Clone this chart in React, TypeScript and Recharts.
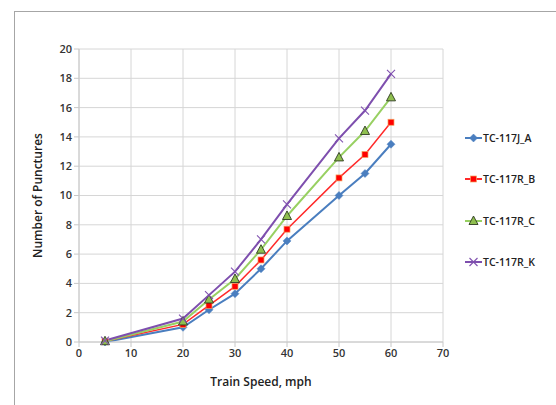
import React from 'react';
import { LineChart, Line, XAxis, YAxis, CartesianGrid, Label } from 'recharts';

const speeds = [5, 20, 25, 30, 35, 40, 50, 55, 60];
const seriesA = [0.0, 1.0, 2.2, 3.3, 5.0, 6.9, 10.0, 11.5, 13.5];
const seriesB = [0.05, 1.2, 2.5, 3.8, 5.6, 7.7, 11.2, 12.8, 15.0];
const seriesC = [0.05, 1.4, 2.9, 4.3, 6.3, 8.6, 12.6, 14.4, 16.7];
const seriesK = [0.1, 1.6, 3.2, 4.8, 7.0, 9.4, 13.9, 15.8, 18.3];
const xTicks = [0, 10, 20, 30, 40, 50, 60, 70];
const yTicks = [0, 2, 4, 6, 8, 10, 12, 14, 16, 18, 20];
const names = ['TC-117J_A', 'TC-117R_B', 'TC-117R_C', 'TC-117R_K'];

const data = speeds.map((s, i) => ({ speed: s, A: seriesA[i], B: seriesB[i], C: seriesC[i], K: seriesK[i] }));

const colors = { A: '#4a7ebf', B: '#ff2a2a', C: '#98d062', K: '#7e4fae' };
const FONT = '"Open Sans", "Liberation Sans", sans-serif';

const Marker = ({ kind, cx, cy }: { kind: string; cx: number; cy: number }) => {
  if (cx == null || cy == null) return null;
  if (kind === 'A') {
    return <polygon points={`${cx},${cy - 4} ${cx + 4},${cy} ${cx},${cy + 4} ${cx - 4},${cy}`} fill={colors.A} stroke={colors.A} strokeWidth={0.5} />;
  }
  if (kind === 'B') {
    return <rect x={cx - 3} y={cy - 3} width={6} height={6} fill="#ff0000" stroke="#f4a460" strokeWidth={0.7} />;
  }
  if (kind === 'C') {
    return <polygon points={`${cx},${cy - 5} ${cx + 4.5},${cy + 3.5} ${cx - 4.5},${cy + 3.5}`} fill="#8fbf4f" stroke="#2e3a20" strokeWidth={0.9} />;
  }
  return (
    <g stroke={colors.K} strokeWidth={1.1}>
      <line x1={cx - 4} y1={cy - 4} x2={cx + 4} y2={cy + 4} />
      <line x1={cx - 4} y1={cy + 4} x2={cx + 4} y2={cy - 4} />
    </g>
  );
};

const mkDot = (kind: string) => (props: any) => <Marker key={`${kind}-${props.index}`} kind={kind} cx={props.cx} cy={props.cy} />;

const LegendBox = () => {
  const keys = ['A', 'B', 'C', 'K'];
  return (
    <div style={{ position: 'absolute', left: 465, top: 117, fontFamily: FONT }}>
      {keys.map((k, i) => (
        <div key={k} style={{ height: 41.5, display: 'flex', alignItems: 'center' }}>
          <svg width={17} height={10} style={{ display: 'block' }}>
            <line x1={0} y1={5} x2={17} y2={5} stroke={(colors as any)[k]} strokeWidth={2} />
            <Marker kind={k} cx={8.5} cy={5} />
          </svg>
          <span style={{ fontSize: 10.5, fontWeight: 600, color: '#222', marginLeft: 1 }}>{names[i]}</span>
        </div>
      ))}
    </div>
  );
};

export default function App() {
  return (
    <div style={{ position: 'absolute', left: 0, top: 0, width: 556, height: 405, overflow: 'hidden', background: '#fff' }}>
      <div style={{ position: 'absolute', left: 14, top: 11, width: 700, height: 600, border: '1px solid #a6a6a6' }} />
      <LineChart width={556} height={405} data={data} margin={{ top: 49, right: 113, left: 39, bottom: 33 }}>
        <CartesianGrid stroke="#d6d6d6" strokeWidth={1} />
        <XAxis
          dataKey="speed"
          type="number"
          domain={[0, 70]}
          ticks={xTicks}
          interval={0}
          height={30}
          stroke="#c8c8c8"
          tickSize={5}
          tick={{ fontSize: 11, fontWeight: 600, fill: '#333', fontFamily: FONT }}
        >
          <Label value="Train Speed, mph" position="insideBottom" offset={-14} style={{ fontSize: 12, fontWeight: 600, fill: '#222', fontFamily: FONT }} />
        </XAxis>
        <YAxis
          type="number"
          domain={[0, 20]}
          ticks={yTicks}
          interval={0}
          width={40}
          stroke="#c8c8c8"
          tickSize={5}
          tick={{ fontSize: 11, fontWeight: 600, fill: '#333', fontFamily: FONT }}
        >
          <Label value="Number of Punctures" angle={-90} position="insideLeft" offset={-1} style={{ textAnchor: 'middle', fontSize: 12, fontWeight: 600, fill: '#222', fontFamily: FONT }} />
        </YAxis>
        <Line type="linear" dataKey="A" name={names[0]} stroke={colors.A} strokeWidth={2} dot={mkDot('A')} isAnimationActive={false} />
        <Line type="linear" dataKey="B" name={names[1]} stroke={colors.B} strokeWidth={1.5} dot={mkDot('B')} isAnimationActive={false} />
        <Line type="linear" dataKey="C" name={names[2]} stroke={colors.C} strokeWidth={2} dot={mkDot('C')} isAnimationActive={false} />
        <Line type="linear" dataKey="K" name={names[3]} stroke={colors.K} strokeWidth={2} dot={mkDot('K')} isAnimationActive={false} />
      </LineChart>
      <LegendBox />
    </div>
  );
}
